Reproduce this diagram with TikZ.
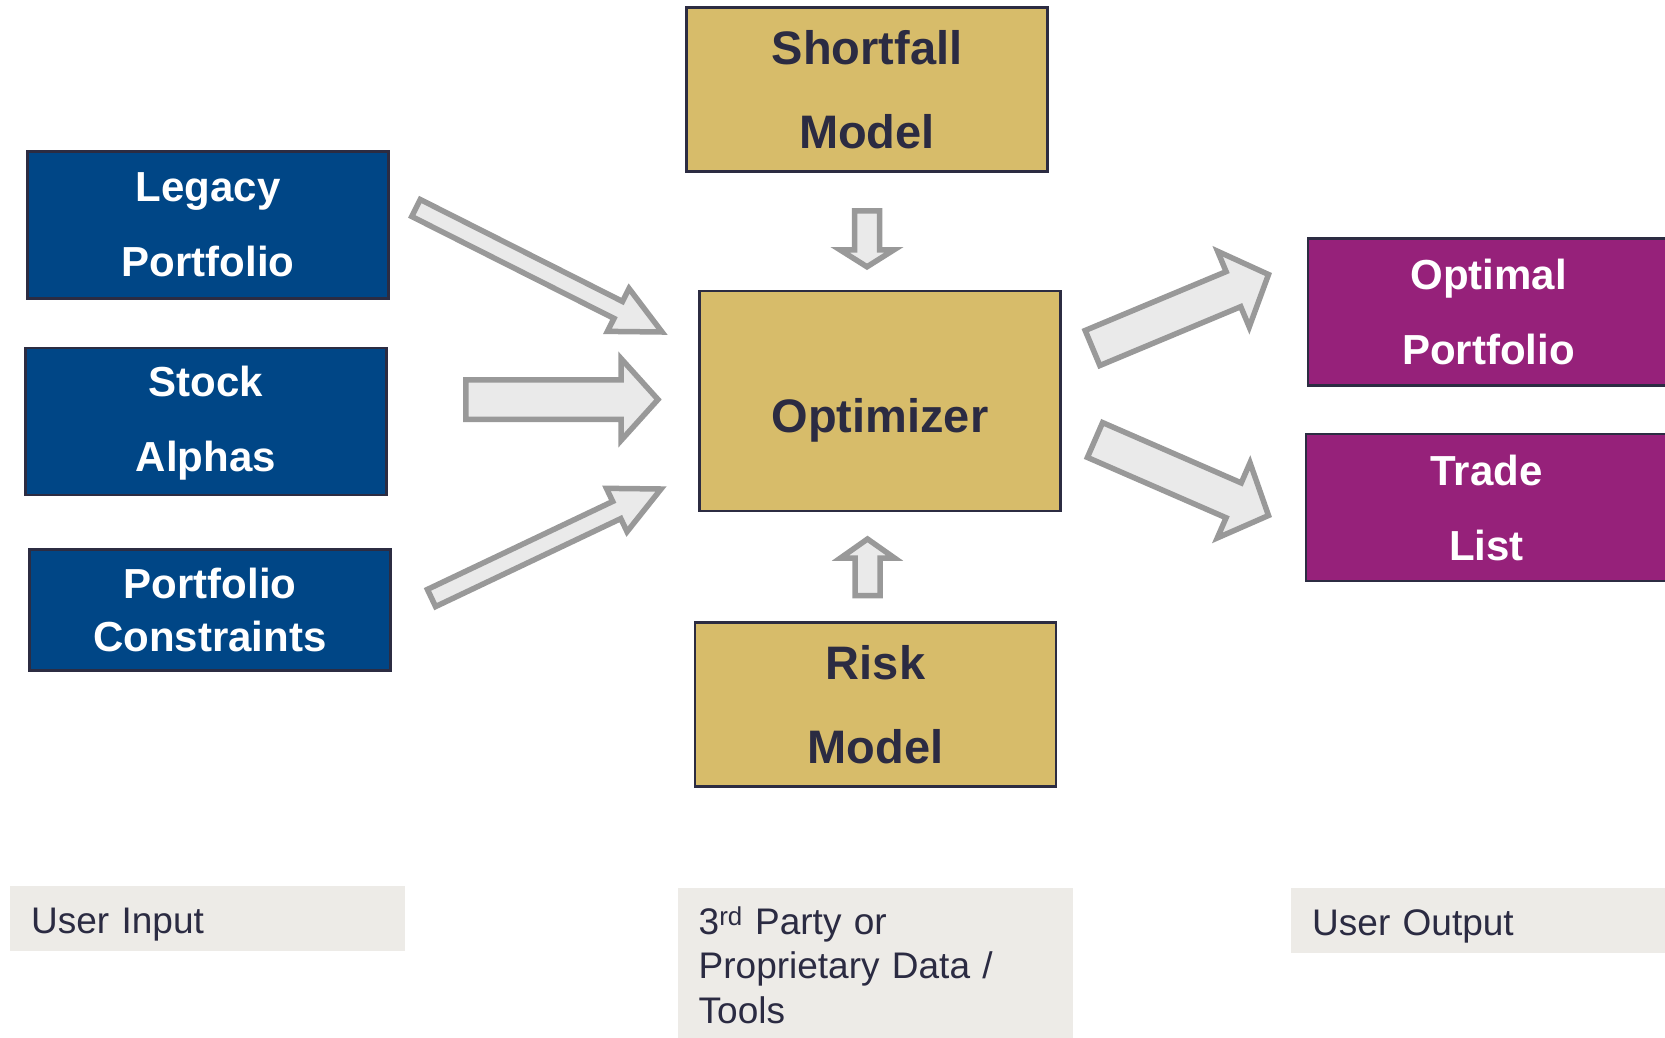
\documentclass[tikz,border=0pt]{standalone}
\usepackage{fontspec}
\setmainfont{Liberation Sans}
\usetikzlibrary{positioning,calc}
\definecolor{inblue}{RGB}{0,70,134}
\definecolor{outpurple}{RGB}{150,33,122}
\definecolor{datagold}{RGB}{215,188,106}
\definecolor{boxedge}{RGB}{44,44,66}
\definecolor{inktext}{RGB}{43,43,66}
\definecolor{tagfill}{RGB}{237,235,231}
\definecolor{arrowfill}{RGB}{234,234,234}
\definecolor{arrowedge}{RGB}{153,153,153}
\tikzset{box/.style={draw=boxedge,line width=2.5pt,align=center,inner sep=0pt,minimum width=361pt},
  inbox/.style={box,fill=inblue,text=white,minimum height=147pt,font=\fontsize{42}{75}\selectfont\bfseries},
  outbox/.style={box,fill=outpurple,text=white,minimum height=147pt,font=\fontsize{42}{75}\selectfont\bfseries},
  databox/.style={box,fill=datagold,text=inktext,minimum height=164pt,font=\fontsize{47}{84}\selectfont\bfseries},
  tag/.style={fill=tagfill,text=inktext,anchor=north west,align=left,text width=353pt,inner xsep=21pt,inner ysep=18pt,font=\fontsize{37}{44.5}\selectfont},
  fat/.style={draw=arrowedge,fill=arrowfill,line width=5.5pt}}
% block arrow: tail, tip, half shaft, half head, head length
\newcommand{\blockarrow}[5]{%
  \coordinate (#2-base) at ($(#2)!#5!(#1)$);
  \draw[fat] ($(#1)!#3!90:(#2)$) -- ($(#2-base)!#3!90:(#2)$) -- ($(#2-base)!#4!90:(#2)$) -- (#2)
    -- ($(#2-base)!#4!-90:(#2)$) -- ($(#2-base)!#3!-90:(#2)$) -- ($(#1)!#3!-90:(#2)$) -- cycle;}

\begin{document}
\begin{tikzpicture}[x=1pt,y=-1pt]
\useasboundingbox (0,0) rectangle (1665,1038);
\node[databox,minimum height=220pt] (opt) at (880,401) {\raisebox{-31.5pt}[0pt][0pt]{Optimizer}};
\node[databox,above=117pt of opt,xshift=-13pt] (shortfall) {Shortfall\\Model};
\node[databox,below=109pt of opt,xshift=-4.5pt] (risk) {Risk\\Model};
\node[inbox] (legacy) at (208,225) {Legacy\\Portfolio};
\node[inbox,below=47pt of legacy,xshift=-2pt] (alphas) {\rule{0pt}{34pt}Stock\\Alphas};
\node[inbox,below=52pt of alphas,xshift=4pt,minimum height=121pt,
  font=\fontsize{42}{53}\selectfont\bfseries] (limits) {Portfolio\\Constraints};
\node[outbox] (optimal) at (1488.5,312) {Optimal\\Portfolio};
\node[outbox,below=46pt of optimal,xshift=-2pt] (trade) {Trade\\List};

\node[tag,text height=29pt,text depth=0pt] (userin) at (10,886) {User Input};
\node[tag] (vendor) at (677.5,888)
 {\rule{0pt}{28pt}3\textsuperscript{rd} Party or\\Proprietary Data /\\Tools\rule[-60pt]{0pt}{0pt}};
\node[tag,text height=29pt,text depth=0pt] (userout) at (1291,888) {User Output};

\coordinate (legacy-out) at (416,208);
\coordinate (opt-in1) at (662,332);
\coordinate (alphas-out) at (465.8,399.5);
\coordinate (opt-in2) at (658,399.5);
\coordinate (limits-out) at (431.5,598);
\coordinate (opt-in3) at (661,489);
\coordinate (shortfall-out) at (867,210.75);
\coordinate (opt-top) at (867,266.8);
\coordinate (risk-out) at (867.5,595.5);
\coordinate (opt-bot) at (867.5,539);
\coordinate (opt-out1) at (1092.5,348);
\coordinate (optimal-in) at (1268.5,274.5);
\coordinate (opt-out2) at (1095,440);
\coordinate (trade-in) at (1268.5,515.5);

\blockarrow{legacy-out}{opt-in1}{9.5pt}{24pt}{49pt}
\blockarrow{alphas-out}{opt-in2}{19.75pt}{41pt}{37pt}
\blockarrow{limits-out}{opt-in3}{9.5pt}{24pt}{49pt}
\blockarrow{shortfall-out}{opt-top}{12.5pt}{27pt}{17pt}
\blockarrow{risk-out}{opt-bot}{12.5pt}{27pt}{19pt}
\blockarrow{opt-out1}{optimal-in}{19pt}{41pt}{38pt}
\blockarrow{opt-out2}{trade-in}{19pt}{41pt}{38pt}
\end{tikzpicture}
\end{document}
